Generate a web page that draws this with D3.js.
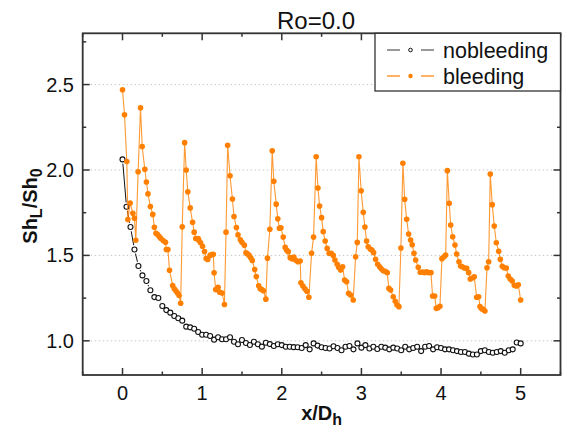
<!DOCTYPE html>
<html>
<head>
<meta charset="utf-8">
<script src="https://cdn.jsdelivr.net/npm/d3@7"></script>
<style>
  html, body { margin: 0; padding: 0; background: #fff; }
  svg text { font-family: "Liberation Sans", Arial, sans-serif; fill: #111; }
</style>
</head>
<body>
<svg id="chart" width="563" height="430"></svg>
<script>
// ---- data ----
const noBleedX = [0, 0.05, 0.1, 0.15, 0.2, 0.25, 0.3, 0.35, 0.4, 0.45, 0.5, 0.55, 0.6, 0.65, 0.7, 0.75, 0.8, 0.85, 0.9, 0.95,
  1, 1.05, 1.1, 1.15, 1.2, 1.25, 1.3, 1.35, 1.4, 1.45, 1.5, 1.55, 1.6, 1.65, 1.7, 1.75, 1.8, 1.85, 1.9, 1.95,
  2, 2.05, 2.1, 2.15, 2.2, 2.25, 2.3, 2.35, 2.4, 2.45, 2.5, 2.55, 2.6, 2.65, 2.7, 2.75, 2.8, 2.85, 2.9, 2.95,
  3, 3.05, 3.1, 3.15, 3.2, 3.25, 3.3, 3.35, 3.4, 3.45, 3.5, 3.55, 3.6, 3.65, 3.7, 3.75, 3.8, 3.85, 3.9, 3.95,
  4, 4.05, 4.1, 4.15, 4.2, 4.25, 4.3, 4.35, 4.4, 4.45, 4.5, 4.55, 4.6, 4.65, 4.7, 4.75, 4.8, 4.85, 4.9, 4.95, 5];
const noBleedY = [2.062, 1.785, 1.666, 1.535, 1.438, 1.383, 1.350, 1.296, 1.256, 1.251, 1.204, 1.180, 1.165, 1.145, 1.132, 1.118, 1.083, 1.079, 1.071, 1.052,
  1.036, 1.036, 1.028, 1.007, 1.021, 1.009, 1.009, 1.021, 0.995, 0.980, 1.005, 0.987, 0.976, 0.995, 0.980, 0.966, 0.989, 0.981, 0.970, 0.980,
  0.975, 0.965, 0.965, 0.963, 0.962, 0.958, 0.975, 0.950, 0.985, 0.972, 0.962, 0.958, 0.955, 0.968, 0.958, 0.945, 0.965, 0.970, 0.950, 0.985,
  0.960, 0.975, 0.955, 0.965, 0.952, 0.965, 0.960, 0.950, 0.960, 0.955, 0.945, 0.965, 0.950, 0.958, 0.965, 0.940, 0.965, 0.970, 0.950, 0.962,
  0.958, 0.950, 0.950, 0.945, 0.940, 0.935, 0.935, 0.925, 0.920, 0.920, 0.940, 0.945, 0.935, 0.930, 0.935, 0.940, 0.930, 0.945, 0.950, 0.990, 0.985];

const bleedX = [0, 0.025, 0.054, 0.067, 0.096, 0.13, 0.15, 0.167, 0.196, 0.226, 0.247, 0.28, 0.3, 0.32, 0.35, 0.38, 0.4, 0.42, 0.44, 0.46,
  0.48, 0.51, 0.54, 0.55, 0.57, 0.59, 0.63, 0.65, 0.67, 0.69, 0.71, 0.73, 0.75, 0.78, 0.8, 0.82, 0.85, 0.88, 0.9, 0.92,
  0.95, 0.96, 0.98, 1.005, 1.03, 1.05, 1.07, 1.1, 1.12, 1.14, 1.15, 1.17, 1.2, 1.22, 1.25, 1.28, 1.3, 1.32, 1.35, 1.38,
  1.4, 1.43, 1.45, 1.48, 1.5, 1.53, 1.55, 1.57, 1.59, 1.61, 1.63, 1.66, 1.68, 1.71, 1.73, 1.75, 1.77, 1.8, 1.82, 1.85,
  1.88, 1.9, 1.93, 1.95, 1.97, 1.989, 2.018, 2.043, 2.06, 2.081, 2.106, 2.131, 2.152, 2.177, 2.202, 2.231, 2.24, 2.265, 2.29, 2.315,
  2.34, 2.374, 2.399, 2.432, 2.454, 2.475, 2.5, 2.52, 2.545, 2.57, 2.595, 2.621, 2.646, 2.667, 2.696, 2.714, 2.739, 2.764, 2.789, 2.814,
  2.839, 2.864, 2.897, 2.927, 2.948, 2.969, 2.997, 3.023, 3.044, 3.065, 3.085, 3.111, 3.132, 3.153, 3.178, 3.204, 3.229, 3.249, 3.274, 3.299,
  3.324, 3.345, 3.367, 3.4, 3.425, 3.446, 3.471, 3.496, 3.521, 3.543, 3.568, 3.593, 3.618, 3.638, 3.66, 3.681, 3.714, 3.739, 3.769, 3.794,
  3.819, 3.844, 3.873, 3.894, 3.92, 3.94, 3.961, 3.986, 4.011, 4.036, 4.058, 4.079, 4.103, 4.121, 4.146, 4.175, 4.196, 4.225, 4.246, 4.266,
  4.296, 4.322, 4.347, 4.367, 4.392, 4.417, 4.447, 4.472, 4.489, 4.51, 4.53, 4.551, 4.577, 4.598, 4.618, 4.643, 4.668, 4.694, 4.724, 4.744,
  4.769, 4.794, 4.819, 4.844, 4.869, 4.894, 4.92, 4.945, 4.97, 5.0];
const bleedY = [2.470, 2.323, 2.050, 1.710, 1.806, 1.747, 1.718, 1.589, 1.990, 2.364, 2.137, 2.004, 1.930, 1.860, 1.786, 1.740, 1.665, 1.630, 1.622, 1.610,
  1.600, 1.587, 1.577, 1.535, 1.535, 1.413, 1.324, 1.305, 1.293, 1.280, 1.265, 1.220, 1.667, 2.160, 2.000, 1.872, 1.778, 1.694, 1.636, 1.599,
  1.599, 1.587, 1.574, 1.554, 1.523, 1.482, 1.476, 1.500, 1.505, 1.507, 1.398, 1.300, 1.314, 1.285, 1.280, 1.213, 1.636, 2.145, 1.966, 1.830,
  1.728, 1.663, 1.620, 1.592, 1.577, 1.560, 1.515, 1.509, 1.500, 1.486, 1.470, 1.417, 1.376, 1.322, 1.305, 1.300, 1.293, 1.244, 1.484, 1.653,
  2.112, 1.934, 1.800, 1.714, 1.659, 1.662, 1.607, 1.547, 1.531, 1.522, 1.487, 1.479, 1.490, 1.471, 1.463, 1.467, 1.340, 1.321, 1.305, 1.290,
  1.255, 1.512, 1.607, 2.077, 1.894, 1.789, 1.721, 1.639, 1.584, 1.541, 1.512, 1.512, 1.500, 1.473, 1.448, 1.430, 1.414, 1.434, 1.356, 1.346,
  1.278, 1.268, 1.239, 1.492, 1.576, 2.077, 1.878, 1.752, 1.666, 1.584, 1.551, 1.537, 1.531, 1.516, 1.477, 1.448, 1.434, 1.422, 1.410, 1.407,
  1.399, 1.307, 1.297, 1.258, 1.231, 1.211, 1.200, 1.543, 2.039, 1.828, 1.711, 1.625, 1.590, 1.562, 1.512, 1.473, 1.430, 1.401, 1.403, 1.399,
  1.404, 1.399, 1.399, 1.262, 1.262, 1.190, 1.194, 1.202, 1.481, 1.492, 1.502, 1.996, 1.805, 1.678, 1.609, 1.561, 1.508, 1.463, 1.438, 1.434,
  1.426, 1.424, 1.399, 1.362, 1.368, 1.375, 1.255, 1.258, 1.200, 1.188, 1.184, 1.174, 1.428, 1.463, 1.976, 1.797, 1.672, 1.574, 1.524, 1.477,
  1.436, 1.428, 1.426, 1.379, 1.362, 1.350, 1.325, 1.321, 1.328, 1.239];

const xTicks = [0, 1, 2, 3, 4, 5];
const yTicks = [1.0, 1.5, 2.0, 2.5];
const seriesNames = ['nobleeding', 'bleeding'];

// ---- layout ----
const PLOT = { left: 82.7, right: 560.5, top: 33.3, bottom: 375 };
const ORANGE = '#ff8000';
const R = 2.5;

const svg = d3.select('#chart');
const x = d3.scaleLinear().domain([-0.5, 5.5]).range([PLOT.left, PLOT.right]);
const y = d3.scaleLinear().domain([0.8, 2.8]).range([PLOT.bottom, PLOT.top]);

// dotted grid at major y ticks
svg.append('g').selectAll('line').data(yTicks).join('line')
  .attr('x1', PLOT.left).attr('x2', PLOT.right)
  .attr('y1', d => y(d)).attr('y2', d => y(d))
  .attr('stroke', '#c8c8c8').attr('stroke-width', 1).attr('stroke-dasharray', '1.5,2.5');

// line segments with a small gap around each symbol (Origin-like)
function gappedSegments(xs, ys, gap) {
  const segs = [];
  for (let i = 1; i < xs.length; i++) {
    const x1 = x(xs[i - 1]), y1 = y(ys[i - 1]), x2 = x(xs[i]), y2 = y(ys[i]);
    const L = Math.hypot(x2 - x1, y2 - y1);
    if (L <= 2 * gap) continue;
    const ux = (x2 - x1) / L, uy = (y2 - y1) / L;
    segs.push([x1 + ux * gap, y1 + uy * gap, x2 - ux * gap, y2 - uy * gap]);
  }
  return segs;
}

const gData = svg.append('g');
gData.append('g').selectAll('line').data(gappedSegments(noBleedX, noBleedY, R + 1.8)).join('line')
  .attr('x1', d => d[0]).attr('y1', d => d[1]).attr('x2', d => d[2]).attr('y2', d => d[3])
  .attr('stroke', '#111').attr('stroke-width', 1);
gData.append('g').selectAll('circle').data(noBleedX).join('circle')
  .attr('cx', d => x(d)).attr('cy', (d, i) => y(noBleedY[i])).attr('r', R)
  .attr('fill', '#fff').attr('stroke', '#111').attr('stroke-width', 1.1);

gData.append('path')
  .datum(bleedX.map((d, i) => [d, bleedY[i]]))
  .attr('fill', 'none').attr('stroke', ORANGE).attr('stroke-opacity', 0.8).attr('stroke-width', 1.1)
  .attr('d', d3.line().x(d => x(d[0])).y(d => y(d[1])));
gData.append('g').selectAll('circle').data(bleedX).join('circle')
  .attr('cx', d => x(d)).attr('cy', (d, i) => y(bleedY[i])).attr('r', R + 0.3)
  .attr('fill', ORANGE);

// frame + inward ticks on all four sides
const AX = '#333';
const xMinor = d3.range(-0.5, 5.51, 0.5).filter(v => Math.abs(v - Math.round(v)) > 0.01);
const yMinor = d3.range(0.75, 2.8, 0.5).filter(v => v > 0.8);
const tickG = svg.append('g').attr('stroke', AX).attr('stroke-width', 1.5);
function xTickSet(vals, len) {
  vals.forEach(v => {
    tickG.append('line').attr('x1', x(v)).attr('x2', x(v)).attr('y1', PLOT.bottom).attr('y2', PLOT.bottom - len);
    tickG.append('line').attr('x1', x(v)).attr('x2', x(v)).attr('y1', PLOT.top).attr('y2', PLOT.top + len);
  });
}
function yTickSet(vals, len) {
  vals.forEach(v => {
    tickG.append('line').attr('y1', y(v)).attr('y2', y(v)).attr('x1', PLOT.left).attr('x2', PLOT.left + len);
    tickG.append('line').attr('y1', y(v)).attr('y2', y(v)).attr('x1', PLOT.right).attr('x2', PLOT.right - len);
  });
}
xTickSet(xTicks, 7); xTickSet(xMinor, 3.5);
yTickSet(yTicks, 7); yTickSet(yMinor, 3.5);
svg.append('rect')
  .attr('x', PLOT.left).attr('y', PLOT.top)
  .attr('width', PLOT.right - PLOT.left).attr('height', PLOT.bottom - PLOT.top)
  .attr('fill', 'none').attr('stroke', AX).attr('stroke-width', 1.8);

// tick labels
svg.append('g').selectAll('text').data(xTicks).join('text')
  .attr('x', d => x(d)).attr('y', 400).attr('text-anchor', 'middle')
  .attr('font-size', 20).text(d => d3.format('d')(d));
svg.append('g').selectAll('text').data(yTicks).join('text')
  .attr('x', 74).attr('y', d => y(d)).attr('dy', '0.35em').attr('text-anchor', 'end')
  .attr('font-size', 20).text(d => d3.format('.1f')(d));

// title + axis titles
svg.append('text').attr('x', 316).attr('y', 29).attr('text-anchor', 'middle')
  .attr('font-size', 24).text('Ro=0.0');

const xl = svg.append('text').attr('x', 321.6).attr('y', 420).attr('text-anchor', 'middle')
  .attr('font-size', 20).attr('font-weight', 'bold');
xl.append('tspan').text('x/D');
xl.append('tspan').attr('font-size', 16).attr('dy', 5).text('h');

const yl = svg.append('text').attr('transform', 'translate(37,206) rotate(-90)')
  .attr('text-anchor', 'middle').attr('font-size', 20).attr('font-weight', 'bold');
yl.append('tspan').text('Sh');
yl.append('tspan').attr('font-size', 16).attr('dy', 5).text('L');
yl.append('tspan').attr('dy', -5).text('/Sh');
yl.append('tspan').attr('font-size', 16).attr('dy', 5).text('0');

// legend
const lg = svg.append('g');
lg.append('rect').attr('x', 375).attr('y', PLOT.top).attr('width', PLOT.right - 375).attr('height', 91 - PLOT.top)
  .attr('fill', '#fff').attr('stroke', AX).attr('stroke-width', 1.3);
const legRows = [
  { name: seriesNames[0], y: 50, line: '#555', open: true },
  { name: seriesNames[1], y: 76, line: ORANGE, open: false }
];
legRows.forEach(r => {
  lg.append('line').attr('x1', 387).attr('x2', 400).attr('y1', r.y).attr('y2', r.y).attr('stroke', r.line).attr('stroke-width', 1.2);
  lg.append('line').attr('x1', 421).attr('x2', 434).attr('y1', r.y).attr('y2', r.y).attr('stroke', r.line).attr('stroke-width', 1.2);
  lg.append('circle').attr('cx', 410.5).attr('cy', r.y).attr('r', r.open ? 1.8 : 2.2)
    .attr('fill', r.open ? '#fff' : ORANGE).attr('stroke', r.open ? '#111' : 'none').attr('stroke-width', 1);
  lg.append('text').attr('x', 443).attr('y', r.y).attr('dy', '0.35em').attr('font-size', 21.5).text(r.name);
});
</script>
</body>
</html>
